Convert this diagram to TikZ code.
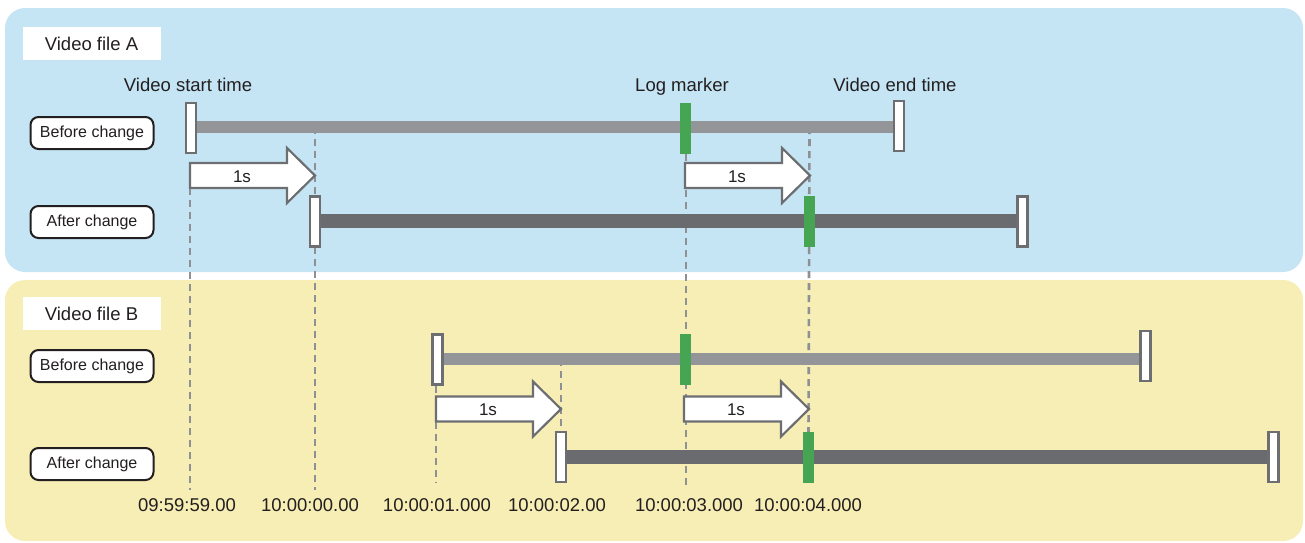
\documentclass[tikz,border=0pt]{standalone}
\usepackage{fontspec}
\setmainfont{Liberation Sans}
\definecolor{panelA}{HTML}{C5E5F4}
\definecolor{panelB}{HTML}{F6EEB4}
\definecolor{barlight}{HTML}{939598}
\definecolor{bardark}{HTML}{6A6B6E}
\definecolor{edgegray}{HTML}{6D6E71}
\definecolor{dashgray}{HTML}{8F9093}
\definecolor{mkgreen}{HTML}{45A553}
\definecolor{ink}{HTML}{231F20}
\pgfdeclarelayer{bg}\pgfdeclarelayer{mid}\pgfsetlayers{bg,mid,main}
\newcommand\fatarrow[4]{%
  \draw[shiftarrow] (#2,#4-12.5) -- (#3-28,#4-12.5) -- (#3-28,#4-27.5) -- (#3,#4)
     -- (#3-28,#4+27.5) -- (#3-28,#4+12.5) -- (#2,#4+12.5) -- cycle;
  \coordinate (#1-tail) at (#2,#4+12.5);
  \node[steplabel] (#1-label) at (#2+52,#4+1) {1s};}
\begin{document}
\begin{tikzpicture}[x=1pt,y=-1pt,
  panel/.style={rounded corners=20pt},
  titlebox/.style={fill=white, minimum width=138, minimum height=33, inner sep=0, font=\fontsize{18.5}{22}\selectfont, text=ink},
  rowbox/.style={draw=ink, line width=2, fill=white, rounded corners=8pt, minimum width=123, minimum height=32, inner sep=0, font=\fontsize{16}{19}\selectfont, text=ink},
  caption/.style={font=\fontsize{18.5}{22}\selectfont, text=ink, inner sep=2},
  endmark/.style={draw=edgegray, line width=2.2, fill=white, minimum width=10, minimum height=50, inner sep=0},
  logmark/.style={fill=mkgreen, minimum width=11, minimum height=51, inner sep=0},
  lightbar/.style={draw=barlight, line width=12},
  darkbar/.style={draw=bardark, line width=14},
  guide/.style={draw=dashgray, line width=2.6, dash pattern=on 7pt off 5pt},
  shiftarrow/.style={draw=edgegray, line width=2.2, fill=white, line join=miter},
  steplabel/.style={font=\fontsize{17}{20}\selectfont, text=ink, inner sep=0},
]
\useasboundingbox (0,0) rectangle (1305,542);
\begin{pgfonlayer}{bg}
  \fill[panelA, panel] (5,8) rectangle (1303,272);
  \fill[panelB, panel] (5,280) rectangle (1303,541);
\end{pgfonlayer}

% titles and row labels
\node[titlebox] (titleA) at (91.5,43.5) {Video file A};
\node[titlebox] (titleB) at (91.5,313.5) {Video file B};
\node[rowbox] (rowA1) at (92,133) {Before change};
\node[rowbox] (rowA2) at (92,222) {After change};
\node[rowbox] (rowB1) at (92,366) {Before change};
\node[rowbox] (rowB2) at (92,464) {After change};

% captions
\node[caption, anchor=base] (capStart) at (188,91) {Video start time};
\node[caption, anchor=base] (capLog) at (682,91) {Log marker};
\node[caption, anchor=base] (capEnd) at (895,91) {Video end time};

% timeline labels
\node[caption, anchor=base] (t0) at (187,511) {09:59:59.00};
\node[caption, anchor=base] (t1) at (310,511) {10:00:00.00};
\node[caption, anchor=base] (t2) at (437,511) {10:00:01.000};
\node[caption, anchor=base] (t3) at (557,511) {10:00:02.00};
\node[caption, anchor=base] (t4) at (689,511) {10:00:03.000};
\node[caption, anchor=base] (t5) at (808,511) {10:00:04.000};

% arrows
\fatarrow{a1}{190}{315}{175.5}
\fatarrow{a2}{685}{810}{175.5}
\fatarrow{b1}{436}{561}{409}
\fatarrow{b2}{684}{809}{409}

% markers
\node[endmark] (aS) at (191,128) {};
\node[endmark] (aE) at (899,126) {};
\node[logmark] (aL) at (685.5,128.5) {};
\node[endmark] (aS2) at (315,221.5) {};
\node[logmark] (aL2) at (809.5,221.5) {};
\node[endmark] (aE2) at (1022.5,221.5) {};
\node[endmark] (bS) at (437.5,359.5) {};
\node[logmark] (bL) at (685.5,359.5) {};
\node[endmark] (bE) at (1145.5,356) {};
\node[endmark] (bS2) at (561,457) {};
\node[logmark] (bL2) at (808.5,457.5) {};
\node[endmark] (bE2) at (1273.5,457) {};

\coordinate (g0) at (190,490);
\coordinate (g1) at (315,490);
\coordinate (g4) at (686,488);

\begin{pgfonlayer}{mid}
  % guides
  \draw[guide] (a1-tail) -- (g0);
  \draw[guide] (aS2.center |- 0,127) -- (g1);
  \draw[guide] (aL.south -| g4) -- (g4);
  \draw[guide] (aL2.center |- 0,127) -- (bL2.north);
  \draw[guide] (bS.south -| b1-tail) -- (b1-tail |- 0,482);
  \draw[guide] (bS2.center |- 0,359) -- (bS2.north);
  % bars
  \draw[lightbar] (aS.center |- 0,127) -- (aE.center |- 0,127);
  \draw[darkbar] (aS2.center |- 0,221) -- (aE2.center |- 0,221);
  \draw[lightbar] (bS.center |- 0,359) -- (bE.center |- 0,359);
  \draw[darkbar] (bS2.center |- 0,457) -- (bE2.center |- 0,457);
\end{pgfonlayer}
\end{tikzpicture}
\end{document}
